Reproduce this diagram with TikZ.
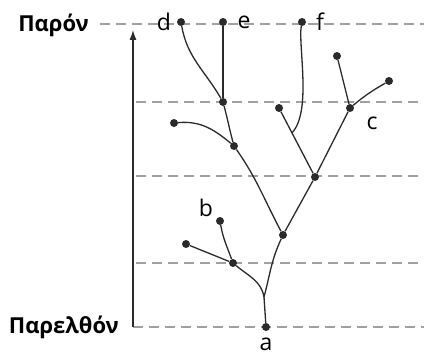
\documentclass[tikz,border=0pt]{standalone}
\usepackage{fontspec}
\setmainfont{Open Sans}
\usetikzlibrary{arrows.meta, calc}
\definecolor{TreeBlack}{HTML}{2A2A2A}
\definecolor{GuideGray}{HTML}{A0A0A0}
\tikzset{
  taxon/.style={circle, fill=TreeBlack, inner sep=0pt, minimum size=8pt},
  branch/.style={draw=TreeBlack, line width=1.3pt},
  guide/.style={draw=GuideGray, line width=1.3pt, dash pattern=on 10pt off 6pt},
  tiplabel/.style={font=\fontsize{23}{26}\selectfont, inner sep=0pt},
  timelabel/.style={font=\fontsize{22}{26}\selectfont\bfseries, anchor=east, inner sep=0pt},
  timearrow/.style={-{Latex[length=3.5mm, width=2.5mm]}, draw=TreeBlack, line width=1.3pt}
}

\begin{document}
\begin{tikzpicture}[x=1pt, y=-1pt]
\useasboundingbox (0,0) rectangle (424,356);

% time levels
\node[timelabel] (now) at (89,25) {Παρόν};
\node[timelabel] (past) at (119,327) {Παρελθόν};
\coordinate (nowL) at (100,24);   \coordinate (nowR) at (424,24);
\coordinate (lv1L) at (136,102);  \coordinate (lv1R) at (424,102);
\coordinate (lv2L) at (136,176);  \coordinate (lv2R) at (424,176);
\coordinate (lv3L) at (136,263);  \coordinate (lv3R) at (424,263);
\coordinate (pastL) at (133,327); \coordinate (pastR) at (424,327);
\foreach \lv in {now, lv1, lv2, lv3, past}
  \draw[guide] (\lv L) -- (\lv R);
\coordinate (top) at (133,30);
\draw[timearrow] (pastL) -- (top);

% tree
\node[taxon] (a) at (266,327) {};
\coordinate (j0) at (264,297);
\node[taxon] (n1) at (233,263) {};
\node[taxon] (b) at (220,221) {};
\node[taxon] (t1) at (186,244) {};
\node[taxon] (n2) at (283,235) {};
\node[taxon] (n3) at (315,177) {};
\node[taxon] (n4) at (234,146) {};
\node[taxon] (t2) at (174,123) {};
\node[taxon] (n5) at (223,102) {};
\node[taxon] (d) at (181,22) {};
\node[taxon] (e) at (223,22) {};
\node[taxon] (t3) at (279,108) {};
\coordinate (j1) at ($(n3)!0.64!(t3)$);
\node[taxon] (f) at (302,22) {};
\node[taxon] (c) at (350,108) {};
\node[taxon] (t4) at (337,56) {};
\node[taxon] (t5) at (389,81) {};

\draw[branch] (a) -- (j0);
\draw[branch] (j0) to[out=100, in=-40] (n1);
\draw[branch] (j0) to[out=75, in=-115] (n2);
\draw[branch] (n1) -- (t1);
\draw[branch] (n1) to[out=110, in=-80] (b);
\draw[branch] (n2) to[out=118, in=-55] (n4);
\draw[branch] (n2) -- (n3);
\draw[branch] (n4) to[out=140, in=5] (t2);
\draw[branch] (n4) to[out=105, in=-75] (n5);
\draw[branch] (n5) to[out=120, in=-80] (d);
\draw[branch] (n5) -- (e);
\draw[branch] (n3) -- (t3);
\draw[branch] (j1) .. controls (312,112) and (298,45) .. (f);
\draw[branch] (n3) -- (c);
\draw[branch] (c) -- (t4);
\draw[branch] (c) to[out=40, in=-150] (t5);

\node[tiplabel] (la) at (266,344) {a};
\node[tiplabel] (lb) at (206,208) {b};
\node[tiplabel] (lc) at (372,123) {c};
\node[tiplabel] (ld) at (164,22) {d};
\node[tiplabel] (le) at (244,22) {e};
\node[tiplabel] (lf) at (320,22) {f};
\end{tikzpicture}
\end{document}
